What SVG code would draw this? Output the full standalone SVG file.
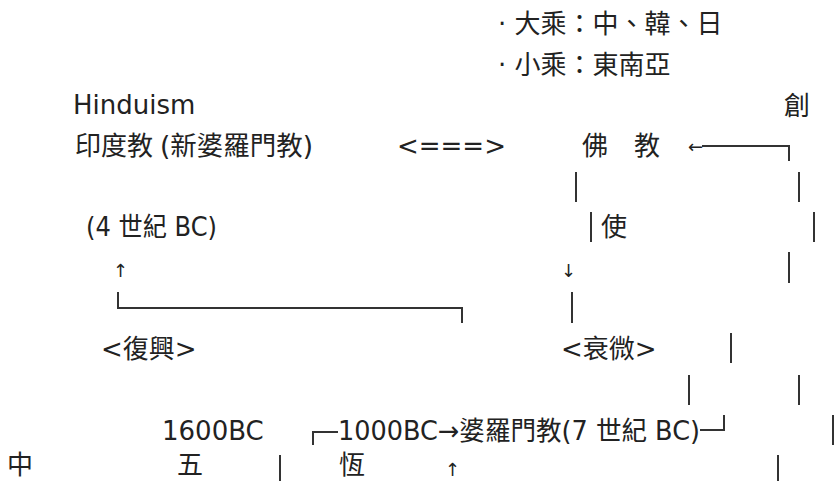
<svg xmlns="http://www.w3.org/2000/svg" width="838" height="481" viewBox="0 0 838 481">
<style>
text { font-family: "DejaVu Sans", "Noto Sans CJK TC", sans-serif; font-size: 26px; fill: #222; }
.arr { font-size: 18px; }
#connectors line, #connectors path { stroke: #333; stroke-width: 2; fill: none; }
</style>
<rect width="838" height="481" fill="#ffffff"/>
<g id="connectors">
<path d="M702 146 H789 V161"/>
<line x1="576" y1="172" x2="576" y2="202"/>
<line x1="799" y1="172" x2="799" y2="202"/>
<line x1="591" y1="212" x2="591" y2="242"/>
<line x1="814" y1="212" x2="814" y2="242"/>
<line x1="789" y1="252" x2="789" y2="283"/>
<path d="M118 292 V308 H462 V323"/>
<line x1="572" y1="292" x2="572" y2="323"/>
<line x1="731" y1="333" x2="731" y2="363"/>
<line x1="689" y1="375" x2="689" y2="405"/>
<line x1="799" y1="375" x2="799" y2="405"/>
<path d="M313 445 V432 H338"/>
<path d="M700 430 H724 V415"/>
<line x1="833" y1="415" x2="833" y2="445"/>
<line x1="280" y1="455" x2="280" y2="481"/>
<line x1="778" y1="455" x2="778" y2="481"/>
</g>
<g id="mahayana"><text x="498" y="33">· 大乘：中、韓、日</text></g>
<g id="theravada"><text x="498" y="74">· 小乘：東南亞</text></g>
<g id="hinduism"><text x="73" y="114">Hinduism</text><text x="75" y="155">印度教</text><text x="160" y="155" textLength="153" lengthAdjust="spacingAndGlyphs">(新婆羅門教)</text></g>
<g id="mutual"><text x="397" y="155">&lt;===&gt;</text></g>
<g id="buddhism"><text x="582" y="155">佛</text><text x="634" y="155">教</text></g>
<g id="arrow-left"><text class="arr" x="688" y="153">←</text></g>
<g id="chuang"><text x="784" y="115">創</text></g>
<g id="century4"><text x="86" y="236" textLength="131" lengthAdjust="spacingAndGlyphs">(4 世紀 BC)</text></g>
<g id="shi"><text x="601" y="236">使</text></g>
<g id="arrow-up1"><text class="arr" x="113" y="277">↑</text></g>
<g id="arrow-down"><text class="arr" x="561" y="277">↓</text></g>
<g id="revival"><text x="101" y="358">&lt;復興&gt;</text></g>
<g id="decline"><text x="561" y="358">&lt;衰微&gt;</text></g>
<g id="bc1600"><text x="162" y="440">1600BC</text></g>
<g id="brahmanism"><text x="338" y="440" textLength="362" lengthAdjust="spacingAndGlyphs">1000BC→婆羅門教(7 世紀 BC)</text></g>
<g id="zhong"><text x="7" y="474">中</text></g>
<g id="wu"><text x="177" y="474">五</text></g>
<g id="heng"><text x="339" y="474">恆</text></g>
<g id="arrow-up2"><text class="arr" x="445" y="476">↑</text></g>
</svg>
